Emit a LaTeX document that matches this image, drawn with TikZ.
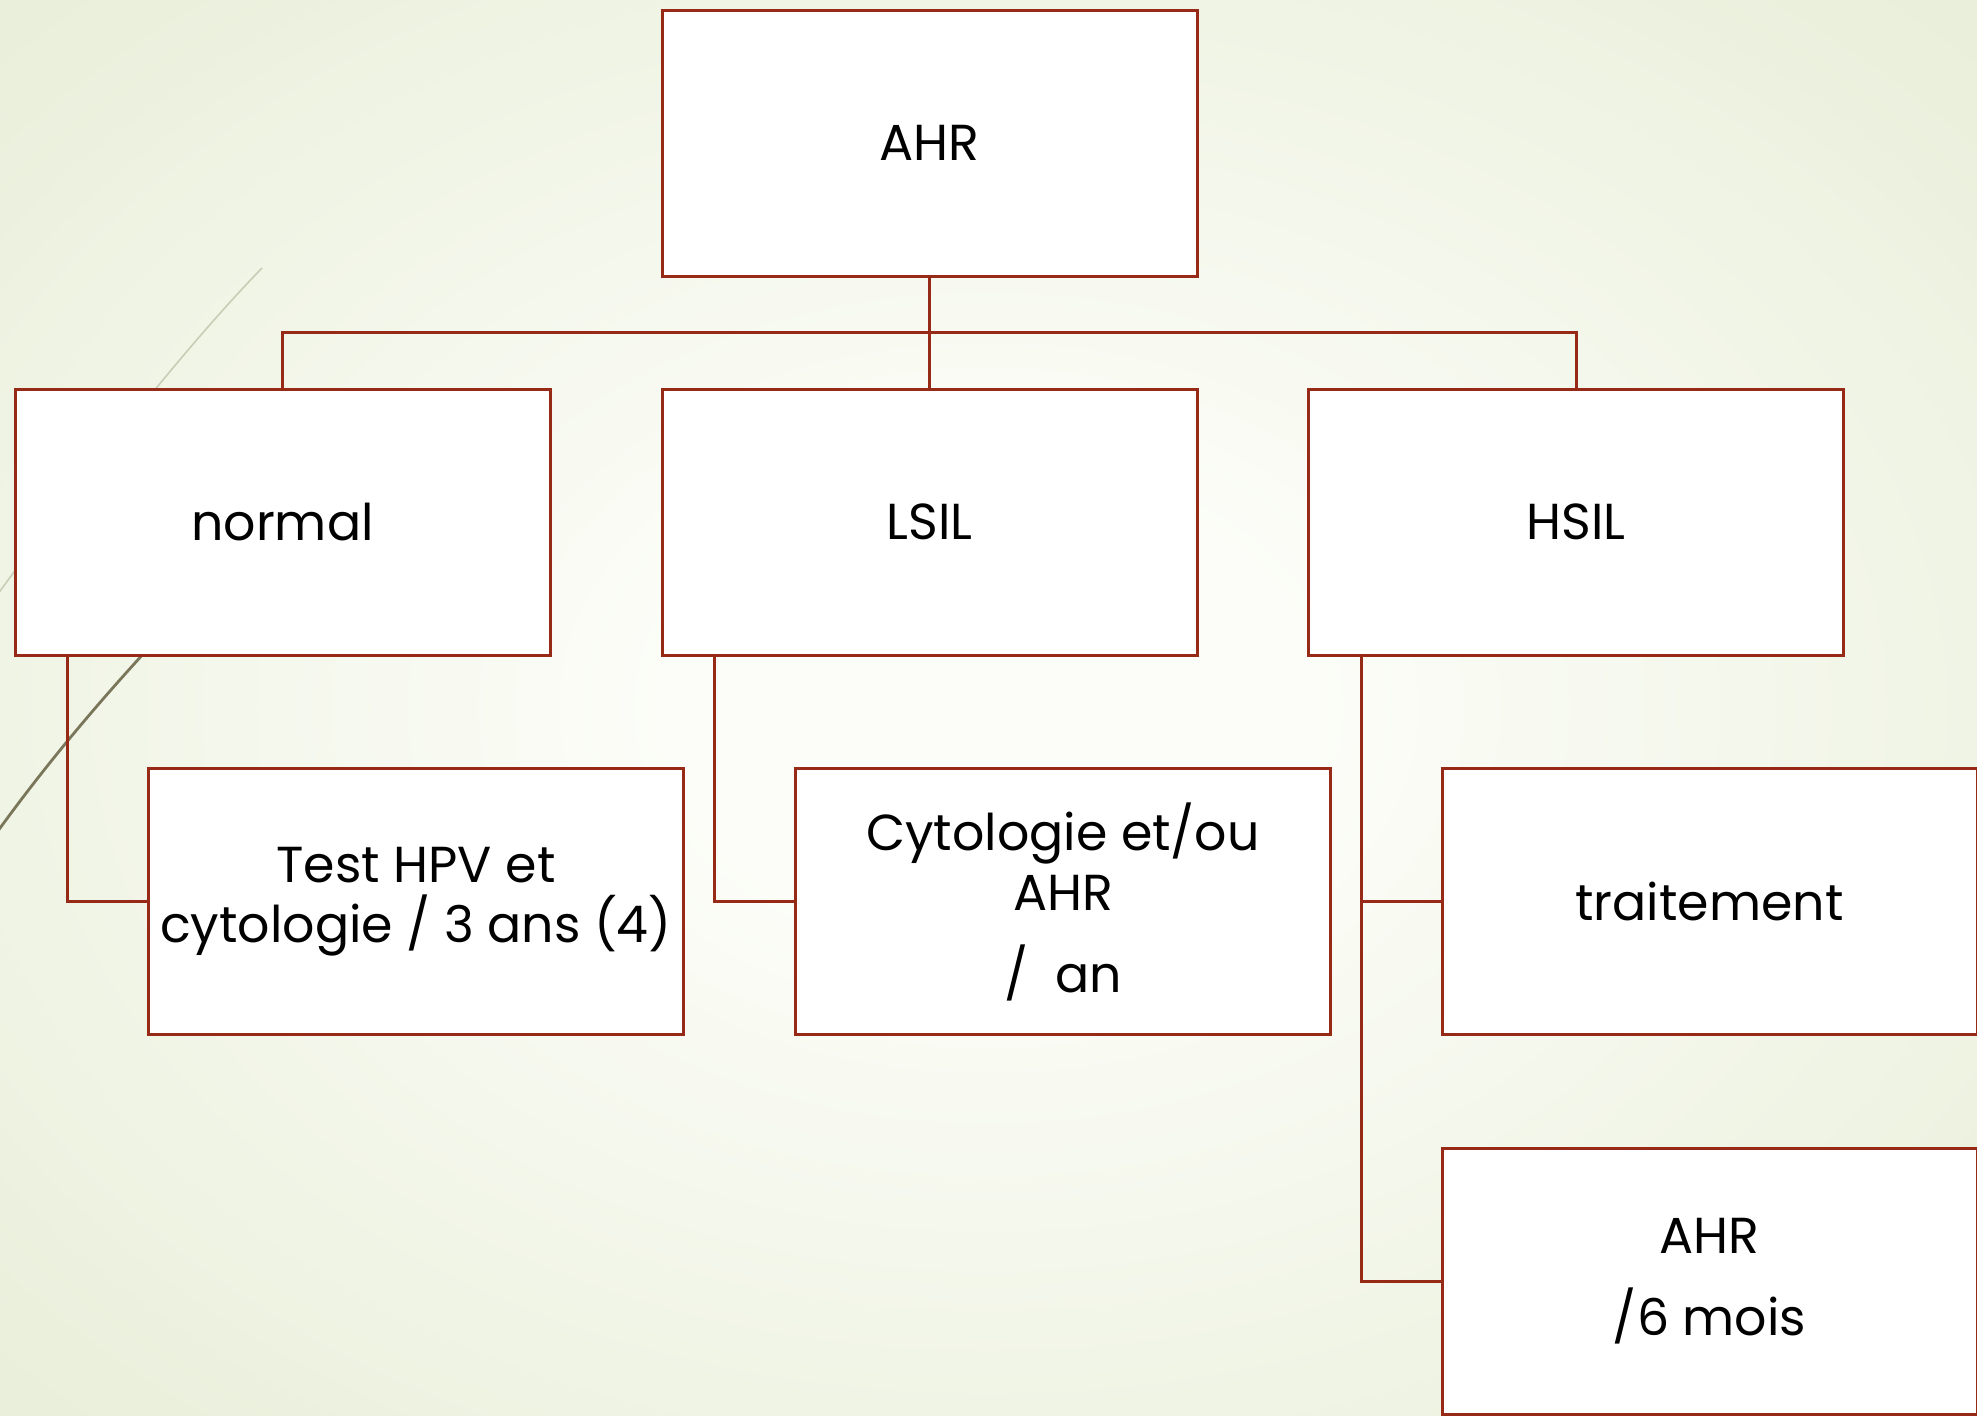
\documentclass[tikz,border=0pt]{standalone}
\usepackage{fontspec}
\setmainfont{Poppins}
\usetikzlibrary{calc}

\definecolor{boxline}{RGB}{150,42,22}
\definecolor{bgcenter}{RGB}{252,253,248}
\definecolor{bgedge}{RGB}{222,231,201}
\definecolor{decolight}{RGB}{200,205,182}
\definecolor{decodark}{RGB}{122,118,90}
\pgfdeclareradialshading{slideglow}{\pgfpoint{0bp}{0bp}}{color(0bp)=(bgcenter); color(8bp)=(bgcenter); color(50bp)=(bgedge)}

\begin{document}
\begin{tikzpicture}[x = 0.5pt, y = -0.5pt, font = \fontsize{25.3}{30}\selectfont,
		cell/.style = {draw = boxline, fill = white, line width = 1.5pt, minimum width = 267.5pt, minimum height = 133pt, inner sep = 0pt, align = center},
		link/.style = {draw = boxline, line width = 1.5pt}]
		\useasboundingbox (0, 0) rectangle (1977, 1415);
		\shade [shading = slideglow] (0, 0) rectangle (1977, 1415);
		\draw [decolight, line width = 0.8pt] (262, 268) .. controls (162, 371) and (40, 536) .. (-5, 598);
		\draw [decodark, line width = 1.4pt] (-10, 842) .. controls (40, 772) and (95, 705) .. (170, 625);

		\node (top) [cell] at (929.5, 143) {AHR};
		\node (normal) [cell] at (282.5, 522) {normal};
		\node (lsil) [cell] at (929.5, 522) {LSIL};
		\node (hsil) [cell] at (1576, 522) {HSIL};
		\node (test) [cell] at (416, 901.5) {Test HPV et\\cytologie / 3 ans (4)};
		\node (cyto) [cell] at (1063, 901.5) {Cytologie et/ou\\AHR\\[11pt]/~~an};
		\node (trait) [cell] at (1709.5, 901.5) {traitement};
		\node (ahrsix) [cell] at (1709.5, 1281) {AHR\\[11pt]/6 mois};

		\coordinate (bus) at (929.5, 332);
		\draw [link] (top.south) -- (lsil.north);
		\draw [link] (normal.north) |- (bus) -| (hsil.north);
		\draw [link] ([xshift = 27pt]normal.south west) |- (test.west);
		\draw [link] ([xshift = 27pt]lsil.south west) |- (cyto.west);
		\draw [link] ([xshift = 27pt]hsil.south west) |- (trait.west);
		\draw [link] ([xshift = 27pt]hsil.south west) |- (ahrsix.west);
	\end{tikzpicture}
\end{document}
